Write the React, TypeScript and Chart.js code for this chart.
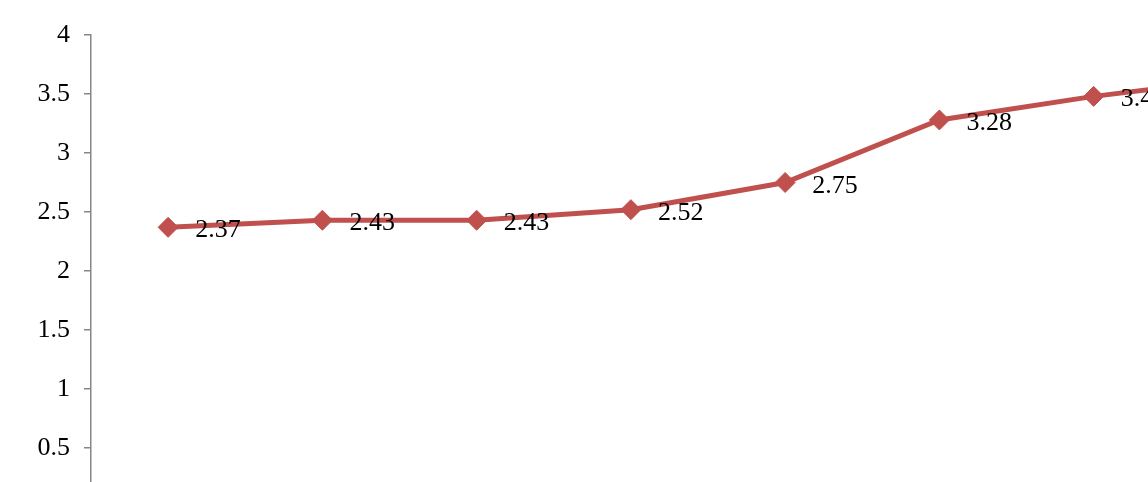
import React, { useEffect, useRef } from "react";
import { Chart, registerables } from "chart.js";

Chart.register(...registerables);

const categories = ["1", "2", "3", "4", "5", "6", "7", "8"];
const values = [2.37, 2.43, 2.43, 2.52, 2.75, 3.28, 3.48, 3.64];
const yTicks = [0, 0.5, 1, 1.5, 2, 2.5, 3, 3.5, 4];

const LINE_COLOR = "#C0504D";
const AXIS_COLOR = "#868686";
const FONT = "'Liberation Serif', 'Times New Roman', serif";

const labelPlugin = {
  id: "pointLabels",
  afterDatasetsDraw(chart: any) {
    const ctx = chart.ctx;
    const meta = chart.getDatasetMeta(0);
    ctx.save();
    ctx.font = `26px ${FONT}`;
    ctx.fillStyle = "#000000";
    ctx.textAlign = "left";
    ctx.textBaseline = "alphabetic";
    meta.data.forEach((pt: any, i: number) => {
      ctx.fillText(String(values[i]), pt.x + 27, pt.y + 10);
    });
    ctx.restore();
  },
};

export default function App() {
  const ref = useRef<HTMLCanvasElement | null>(null);
  useEffect(() => {
    if (!ref.current) return;
    const chart = new Chart(ref.current, {
      type: "line",
      data: {
        labels: categories,
        datasets: [
          {
            data: values,
            borderColor: LINE_COLOR,
            backgroundColor: LINE_COLOR,
            borderWidth: 5,
            tension: 0,
            pointStyle: "rectRot",
            pointRadius: 10,
            pointBorderWidth: 1,
            pointBackgroundColor: LINE_COLOR,
            pointBorderColor: LINE_COLOR,
            clip: false as any,
          },
        ],
      },
      options: {
        responsive: false,
        animation: false,
        layout: { padding: { left: 0, top: 35, right: 20, bottom: 33 } },
        plugins: {
          legend: { display: false },
          tooltip: { enabled: false },
        },
        scales: {
          x: {
            display: false,
            offset: true,
          },
          y: {
            min: 0,
            max: 4,
            afterFit: (scale: any) => {
              scale.width = 91;
            },
            afterBuildTicks: (scale: any) => {
              scale.ticks = yTicks.map((v) => ({ value: v }));
            },
            ticks: {
              color: "#000000",
              font: { family: FONT, size: 26 },
              padding: 14,
              callback: (v: any) => String(v),
            },
            grid: {
              display: true,
              drawOnChartArea: false,
              drawTicks: true,
              tickLength: 7,
              color: AXIS_COLOR,
              lineWidth: 1.5,
            },
            border: { display: true, color: AXIS_COLOR, width: 1.5 },
          },
        },
      },
      plugins: [labelPlugin],
    });
    return () => chart.destroy();
  }, []);

  return (
    <div
      style={{
        position: "fixed",
        left: 0,
        top: 0,
        width: 1148,
        height: 482,
        overflow: "hidden",
        background: "#ffffff",
      }}
    >
      <canvas ref={ref} width={1345} height={540} style={{ display: "block" }} />
    </div>
  );
}
